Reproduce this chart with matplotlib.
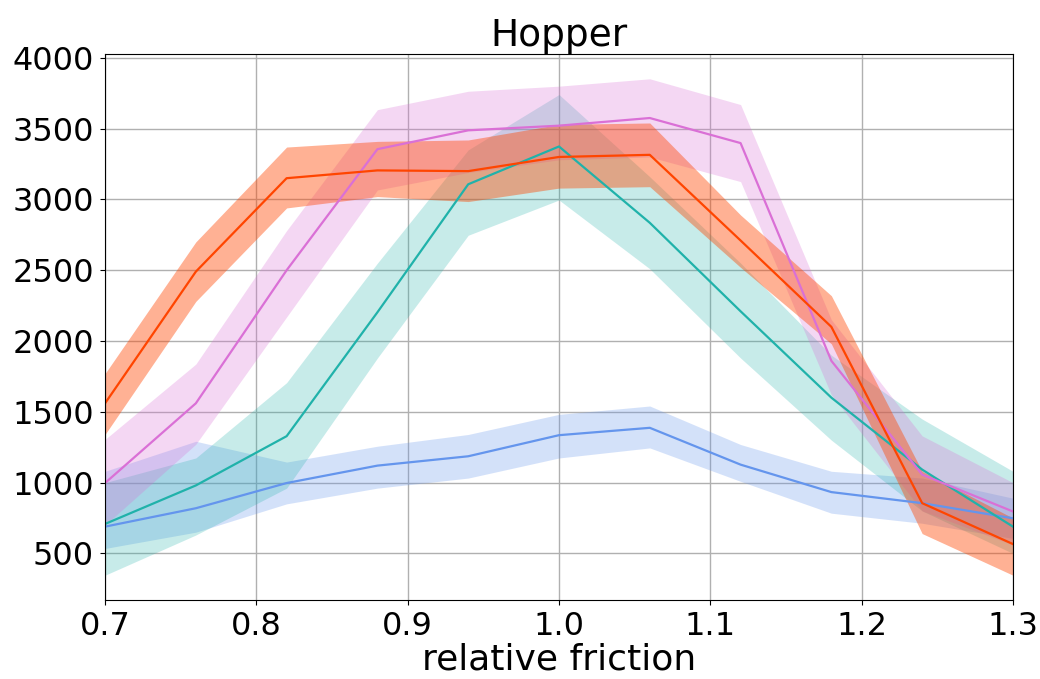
import numpy as np
import matplotlib
matplotlib.use('Agg')
import matplotlib.pyplot as plt

friction = [0.7, 0.76, 0.82, 0.88, 0.94, 1.0, 1.06, 1.12, 1.18, 1.24, 1.3]

# orangered series
red_mean = [1560, 2490, 3150, 3205, 3200, 3300, 3315, 2710, 2100, 855, 566]
red_upper = [1770, 2700, 3370, 3410, 3420, 3530, 3540, 2890, 2320, 1080, 750]
red_lower = [1340, 2280, 2940, 3020, 2985, 3080, 3090, 2520, 1980, 640, 346]

# orchid series
violet_mean = [997, 1560, 2500, 3355, 3488, 3521, 3575, 3398, 1860, 1056, 796]
violet_upper = [1305, 1837, 2780, 3634, 3764, 3800, 3852, 3670, 2150, 1330, 1000]
violet_lower = [700, 1271, 2170, 3067, 3190, 3280, 3300, 3126, 1620, 800, 560]

# lightseagreen series
teal_mean = [708, 980, 1328, 2203, 3107, 3374, 2835, 2210, 1600, 1092, 689]
teal_upper = [1000, 1174, 1706, 2550, 3350, 3741, 3160, 2550, 1900, 1449, 1080]
teal_lower = [346, 630, 961, 1880, 2747, 2996, 2510, 1880, 1300, 800, 500]

# cornflowerblue series
blue_mean = [689, 819, 997, 1120, 1186, 1335, 1387, 1127, 933, 855, 748]
blue_upper = [1080, 1292, 1145, 1257, 1340, 1482, 1541, 1269, 1080, 1032, 890]
blue_lower = [535, 650, 850, 961, 1032, 1174, 1245, 1009, 784, 713, 606]

series = [
    (blue_mean, blue_lower, blue_upper, 'cornflowerblue', 0.28),
    (teal_mean, teal_lower, teal_upper, 'lightseagreen', 0.25),
    (violet_mean, violet_lower, violet_upper, 'orchid', 0.28),
    (red_mean, red_lower, red_upper, 'orangered', 0.42),
]

fig = plt.figure(figsize=(10.4, 6.79), dpi=100)
ax = fig.add_axes([0.101, 0.1163, 0.873, 0.8042])

for mean, lo, hi, col, a in series:
    ax.fill_between(friction, lo, hi, color=col, alpha=a, linewidth=0)
    ax.plot(friction, mean, color=col, linewidth=1.6)

ax.set_xlim(0.7, 1.3)
ax.set_xticks([0.7, 0.8, 0.9, 1.0, 1.1, 1.2, 1.3])
ax.set_yticks([500, 1000, 1500, 2000, 2500, 3000, 3500, 4000])
ax.grid(True, color='#b0b0b0', linewidth=1)
ax.set_axisbelow(True)
ax.tick_params(labelsize=23, pad=4.5)
ax.set_title('Hopper', fontsize=27, pad=3)
ax.set_xlabel('relative friction', fontsize=26, labelpad=0.5)

fig.savefig('out.png', dpi=100)
